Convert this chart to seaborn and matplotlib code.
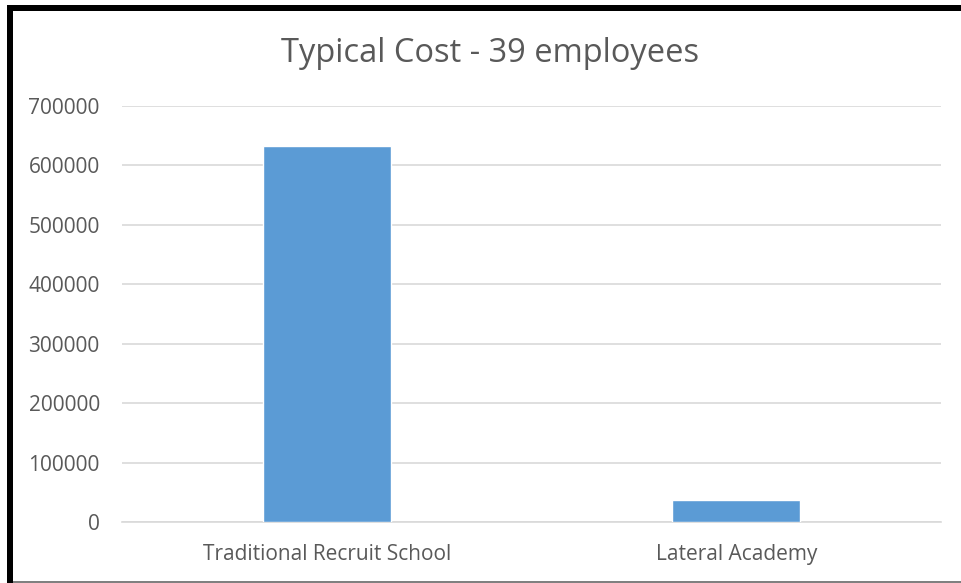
import matplotlib
matplotlib.use("Agg")
import matplotlib.pyplot as plt
import seaborn as sns
import pandas as pd
from matplotlib.patches import Rectangle

categories = ["Traditional Recruit School", "Lateral Academy"]
costs = [633000, 37050]
yticks = [0, 100000, 200000, 300000, 400000, 500000, 600000, 700000]

sns.set_theme(style="white")
plt.rcParams["font.family"] = ["Open Sans", "DejaVu Sans"]

df = pd.DataFrame({"category": categories, "cost": costs})

W, H = 961, 583
fig = plt.figure(figsize=(W / 100, H / 100), dpi=100)
ax = fig.add_axes([122 / W, 61 / H, (941 - 122) / W, (522 - 106) / H])

sns.barplot(data=df, x="category", y="cost", color="#5B9BD5", width=0.3125,
            saturation=1, ax=ax, zorder=3)

ax.set_ylim(0, 700000)
ax.set_xlim(-0.5, 1.5)
ax.set_yticks(yticks)
ax.set_yticklabels([str(v) for v in yticks])
ax.yaxis.grid(True, color="#D9D9D9", linewidth=1.2, zorder=0)
ax.set_axisbelow(True)
for s in ["top", "right", "left"]:
    ax.spines[s].set_visible(False)
ax.spines["bottom"].set_color("#D9D9D9")
ax.spines["bottom"].set_linewidth(1.2)
ax.tick_params(axis="both", length=0, labelsize=15, colors="#595959")
ax.tick_params(axis="y", pad=16)
ax.tick_params(axis="x", pad=16)
ax.set_xlabel("")
ax.set_ylabel("")

fig.text(490 / W, 1 - 54 / H, "Typical Cost - 39 employees", ha="center", va="center",
         fontsize=23.5, color="#595959")

# frame around the chart
fig.add_artist(Rectangle((7 / W, 0), 6 / W, 1 - 5 / H, transform=fig.transFigure,
                         facecolor="black", edgecolor="none"))
fig.add_artist(Rectangle((7 / W, 1 - 11 / H), 1 - 7 / W, 6 / H, transform=fig.transFigure,
                         facecolor="black", edgecolor="none"))
fig.add_artist(Rectangle((13 / W, 0), 1 - 13 / W, 2 / H, transform=fig.transFigure,
                         facecolor="#808080", edgecolor="none"))

fig.savefig("out.png", dpi=100)
